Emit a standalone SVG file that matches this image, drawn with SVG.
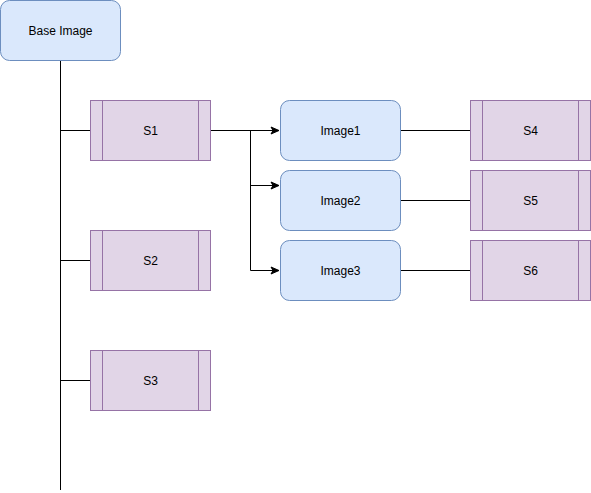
<svg xmlns="http://www.w3.org/2000/svg" width="591" height="493" viewBox="0 0 591 493">
<style>
.img{fill:#dae8fc;stroke:#6c8ebf;stroke-width:1}
.proc{fill:#e1d5e7;stroke:#9673a6;stroke-width:1}
.t{font-family:"Liberation Sans",Arial,sans-serif;font-size:12px;fill:#000;text-anchor:middle;dominant-baseline:central}
.e{fill:none;stroke:#000;stroke-width:1}
</style>
<defs>
<marker id="arr" markerWidth="10" markerHeight="10" refX="9" refY="5" orient="auto" markerUnits="userSpaceOnUse">
<path d="M1,1.5 L9,5 L1,8.5 L3,5 Z" fill="#000" stroke="#000" stroke-width="1"/>
</marker>
</defs>
<rect width="591" height="493" fill="#fff"/>
<g id="connectors">
<path class="e" d="M60.5,60.5 V490"/>
<path class="e" d="M60.5,130.5 H90.5"/>
<path class="e" d="M60.5,260.5 H90.5"/>
<path class="e" d="M60.5,380.5 H90.5"/>
<path class="e" d="M210.5,130.5 H279" marker-end="url(#arr)"/>
<path class="e" d="M250.5,130.5 V270.5"/>
<path class="e" d="M250.5,185.5 H279" marker-end="url(#arr)"/>
<path class="e" d="M250.5,270.5 H279" marker-end="url(#arr)"/>
<path class="e" d="M400.5,130.5 H470.5"/>
<path class="e" d="M400.5,200.5 H470.5"/>
<path class="e" d="M400.5,270.5 H470.5"/>
</g>
<g id="base">
<rect class="img" x="0.5" y="0.5" width="120" height="60" rx="9"/>
<text class="t" x="60.5" y="30.5">Base Image</text>
</g>
<g id="s1">
<rect class="proc" x="90.5" y="100.5" width="120" height="60"/>
<path class="proc" d="M102.5,100.5 V160.5 M198.5,100.5 V160.5"/>
<text class="t" x="150.5" y="130.5">S1</text>
</g>
<g id="s2">
<rect class="proc" x="90.5" y="230.5" width="120" height="60"/>
<path class="proc" d="M102.5,230.5 V290.5 M198.5,230.5 V290.5"/>
<text class="t" x="150.5" y="260.5">S2</text>
</g>
<g id="s3">
<rect class="proc" x="90.5" y="350.5" width="120" height="60"/>
<path class="proc" d="M102.5,350.5 V410.5 M198.5,350.5 V410.5"/>
<text class="t" x="150.5" y="380.5">S3</text>
</g>
<g id="image1">
<rect class="img" x="280.5" y="100.5" width="120" height="60" rx="9"/>
<text class="t" x="340.5" y="130.5">Image1</text>
</g>
<g id="image2">
<rect class="img" x="280.5" y="170.5" width="120" height="60" rx="9"/>
<text class="t" x="340.5" y="200.5">Image2</text>
</g>
<g id="image3">
<rect class="img" x="280.5" y="240.5" width="120" height="60" rx="9"/>
<text class="t" x="340.5" y="270.5">Image3</text>
</g>
<g id="s4">
<rect class="proc" x="470.5" y="100.5" width="120" height="60"/>
<path class="proc" d="M482.5,100.5 V160.5 M578.5,100.5 V160.5"/>
<text class="t" x="530.5" y="130.5">S4</text>
</g>
<g id="s5">
<rect class="proc" x="470.5" y="170.5" width="120" height="60"/>
<path class="proc" d="M482.5,170.5 V230.5 M578.5,170.5 V230.5"/>
<text class="t" x="530.5" y="200.5">S5</text>
</g>
<g id="s6">
<rect class="proc" x="470.5" y="240.5" width="120" height="60"/>
<path class="proc" d="M482.5,240.5 V300.5 M578.5,240.5 V300.5"/>
<text class="t" x="530.5" y="270.5">S6</text>
</g>
</svg>
